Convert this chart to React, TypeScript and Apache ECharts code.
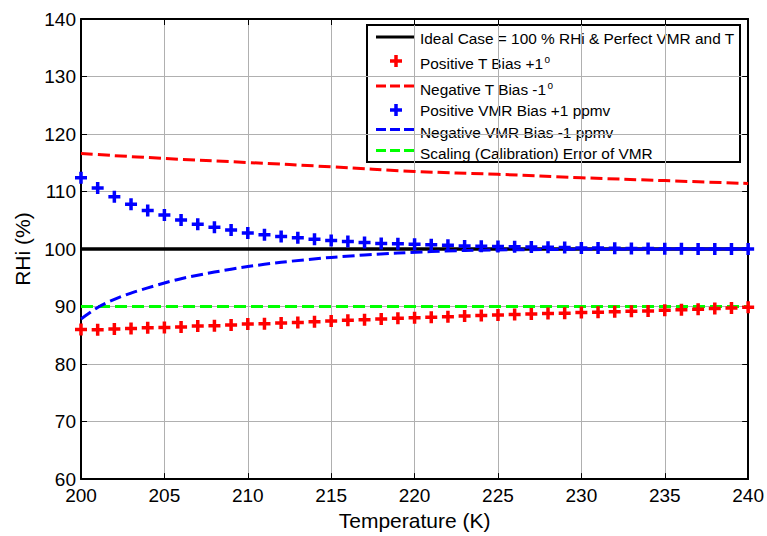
import React, { useEffect, useRef } from "react";
import * as echarts from "echarts";

// Temperature grid (K) for the marker series
const tempK = [
  200, 201, 202, 203, 204, 205, 206, 207, 208, 209,
  210, 211, 212, 213, 214, 215, 216, 217, 218, 219,
  220, 221, 222, 223, 224, 225, 226, 227, 228, 229,
  230, 231, 232, 233, 234, 235, 236, 237, 238, 239, 240,
];

// Positive T bias +1° (red crosses)
const posTBias = [
  86.0, 85.95, 86.1, 86.2, 86.3, 86.35, 86.45, 86.6, 86.65, 86.8,
  86.95, 87.0, 87.15, 87.25, 87.35, 87.5, 87.6, 87.7, 87.85, 87.95,
  88.05, 88.15, 88.25, 88.35, 88.45, 88.55, 88.6, 88.7, 88.8, 88.85,
  88.95, 89.0, 89.1, 89.2, 89.25, 89.35, 89.45, 89.55, 89.65, 89.75, 89.9,
];

// Positive VMR bias +1 ppmv (blue crosses)
const posVMRBias = [
  112.4, 110.6, 109.1, 107.8, 106.7, 105.9, 105.05, 104.3, 103.8, 103.3,
  102.8, 102.5, 102.2, 101.95, 101.7, 101.5, 101.3, 101.15, 100.95, 100.9,
  100.85, 100.75, 100.65, 100.55, 100.5, 100.45, 100.4, 100.35, 100.3, 100.25,
  100.2, 100.2, 100.15, 100.1, 100.1, 100.05, 100.05, 100.0, 100.0, 100.0, 100.0,
];

// Negative T bias -1° (red dashed)
const negTBiasT = [200, 205, 210, 215, 220, 225, 230, 235, 240];
const negTBias = [116.6, 115.75, 115.05, 114.3, 113.5, 113.0, 112.4, 111.9, 111.4];

// Negative VMR bias -1 ppmv (blue dashed)
const negVMRT = [200, 201, 202, 203, 204, 205, 206, 208, 210, 212, 215, 219, 223, 230, 240];
const negVMRBias = [87.85, 89.85, 91.25, 92.35, 93.25, 94.1, 94.85, 96.0, 96.95, 97.7, 98.55, 99.3, 99.75, 99.95, 100.0];

// Ideal case and scaling error (straight lines)
const idealT = [200, 240];
const idealRHi = [100, 100];
const scalingT = [200, 240];
const scalingRHi = [90, 90];

const xTicks = { min: 200, max: 240, interval: 5 };
const yTicks = { min: 60, max: 140, interval: 10 };

const legendLabels = [
  "Ideal Case = 100 % RHi & Perfect VMR and T",
  "Positive T Bias +1",
  "Negative T Bias -1",
  "Positive VMR Bias +1 ppmv",
  "Negative VMR Bias -1 ppmv",
  "Scaling (Calibration) Error of VMR",
];

const zip = (xs: number[], ys: number[]) => xs.map((x, i) => [x, ys[i]]);

const CROSS = "path://M4.25,0H7.75V4.25H12V7.75H7.75V12H4.25V7.75H0V4.25H4.25Z";
const FONT = "'Liberation Sans', Arial, sans-serif";

function crossPoly(cx: number, cy: number, s: number, t: number) {
  const h = s / 2;
  const a = t / 2;
  return [
    [cx - a, cy - h], [cx + a, cy - h], [cx + a, cy - a], [cx + h, cy - a],
    [cx + h, cy + a], [cx + a, cy + a], [cx + a, cy + h], [cx - a, cy + h],
    [cx - a, cy + a], [cx - h, cy + a], [cx - h, cy - a], [cx - a, cy - a],
  ];
}

export default function App() {
  const ref = useRef<HTMLDivElement>(null);

  useEffect(() => {
    if (!ref.current) return;
    const chart = echarts.init(ref.current, null, { renderer: "svg" });

    const lx1 = 376;
    const lx2 = 415;
    const tx = 420;
    const rows = [
      { kind: "line", color: "#000000", dash: null, iy: 37, ty: 38 },
      { kind: "cross", color: "#ff0000", iy: 61, ty: 63, sup: true },
      { kind: "line", color: "#ff0000", dash: [10, 4], iy: 86, ty: 89, sup: true },
      { kind: "cross", color: "#0000ff", iy: 110, ty: 110.5 },
      { kind: "line", color: "#0000ff", dash: [10, 4], iy: 129.5, ty: 132 },
      { kind: "line", color: "#00ff00", dash: [10, 4], iy: 150.5, ty: 153 },
    ];

    const legendChildren: any[] = [
      {
        type: "rect",
        shape: { x: 367, y: 25, width: 373, height: 137 },
        style: { fill: "#ffffff", stroke: "#000000", lineWidth: 2 },
      },
    ];
    rows.forEach((r: any, i) => {
      if (r.kind === "line") {
        legendChildren.push({
          type: "line",
          shape: { x1: lx1, y1: r.iy, x2: lx2, y2: r.iy },
          style: { stroke: r.color, lineWidth: 3, lineDash: r.dash || undefined },
        });
      } else {
        legendChildren.push({
          type: "polygon",
          shape: { points: crossPoly(396, r.iy, 12, 3.5) },
          style: { fill: r.color },
        });
      }
      legendChildren.push({
        type: "text",
        x: tx,
        y: r.ty,
        style: {
          text: r.sup ? `{n|${legendLabels[i]}}{s|o}` : `{n|${legendLabels[i]}}`,
          fill: "#000000",
          verticalAlign: "middle",
          align: "left",
          rich: {
            n: { fontSize: 15.4, fontFamily: FONT, fill: "#000000", lineHeight: 18 },
            s: { fontSize: 10, fontFamily: FONT, fill: "#000000", verticalAlign: "top", lineHeight: 10, padding: [0, 0, 0, 1] },
          },
        },
      });
    });

    const commonSplit = { show: true, lineStyle: { color: "#b0b0b0", width: 1 } };

    chart.setOption({
      animation: false,
      backgroundColor: "#ffffff",
      grid: { left: 81, right: 18, top: 19, bottom: 51, containLabel: false },
      xAxis: [
        {
          type: "value",
          ...xTicks,
          position: "bottom",
          name: "Temperature (K)",
          nameLocation: "middle",
          nameGap: 22,
          nameTextStyle: { fontSize: 21, fontFamily: FONT, color: "#000" },
          axisLine: { show: true, onZero: false, lineStyle: { color: "#000", width: 2 } },
          axisTick: { show: true, inside: true, length: 6, lineStyle: { color: "#000", width: 1 } },
          axisLabel: { fontSize: 19, fontFamily: FONT, color: "#000", margin: 7 },
          splitLine: commonSplit,
        },
        {
          type: "value",
          ...xTicks,
          position: "top",
          axisLine: { show: true, onZero: false, lineStyle: { color: "#000", width: 2 } },
          axisTick: { show: true, inside: true, length: 6, lineStyle: { color: "#000", width: 1 } },
          axisLabel: { show: false },
          splitLine: { show: false },
        },
      ],
      yAxis: [
        {
          type: "value",
          ...yTicks,
          position: "left",
          name: "RHi (%)",
          nameLocation: "middle",
          nameGap: 48,
          nameRotate: 90,
          nameTextStyle: { fontSize: 21, fontFamily: FONT, color: "#000" },
          axisLine: { show: true, onZero: false, lineStyle: { color: "#000", width: 2 } },
          axisTick: { show: true, inside: true, length: 6, lineStyle: { color: "#000", width: 1 } },
          axisLabel: { fontSize: 19, fontFamily: FONT, color: "#000", margin: 5 },
          splitLine: commonSplit,
        },
        {
          type: "value",
          ...yTicks,
          position: "right",
          axisLine: { show: true, onZero: false, lineStyle: { color: "#000", width: 2 } },
          axisTick: { show: true, inside: true, length: 6, lineStyle: { color: "#000", width: 1 } },
          axisLabel: { show: false },
          splitLine: { show: false },
        },
      ],
      series: [
        {
          name: legendLabels[0],
          type: "line",
          data: zip(idealT, idealRHi),
          symbol: "none",
          lineStyle: { color: "#000000", width: 3.5 },
          z: 2,
        },
        {
          name: legendLabels[5],
          type: "line",
          data: zip(scalingT, scalingRHi),
          symbol: "none",
          lineStyle: { color: "#00ff00", width: 3, type: [12, 5] },
          z: 3,
        },
        {
          name: legendLabels[2],
          type: "line",
          data: zip(negTBiasT, negTBias),
          symbol: "none",
          smooth: 0.4,
          lineStyle: { color: "#ff0000", width: 3, type: [12, 5] },
          z: 3,
        },
        {
          name: legendLabels[1],
          type: "scatter",
          data: zip(tempK, posTBias),
          symbol: CROSS,
          symbolSize: 12,
          clip: false,
          itemStyle: { color: "#ff0000", opacity: 1 },
          z: 4,
        },
        {
          name: legendLabels[3],
          type: "scatter",
          data: zip(tempK, posVMRBias),
          symbol: CROSS,
          symbolSize: 12,
          clip: false,
          itemStyle: { color: "#0000ff", opacity: 1 },
          z: 4,
        },
        {
          name: legendLabels[4],
          type: "line",
          data: zip(negVMRT, negVMRBias),
          symbol: "none",
          smooth: 0.3,
          lineStyle: { color: "#0000ff", width: 3, type: [12, 5] },
          z: 5,
        },
      ],
      graphic: [
        {
          type: "group",
          z: 100,
          children: legendChildren,
        },
      ],
    });

    return () => chart.dispose();
  }, []);

  return (
    <div
      ref={ref}
      style={{ position: "fixed", left: 0, top: 0, width: 767, height: 536, background: "#fff" }}
    />
  );
}
